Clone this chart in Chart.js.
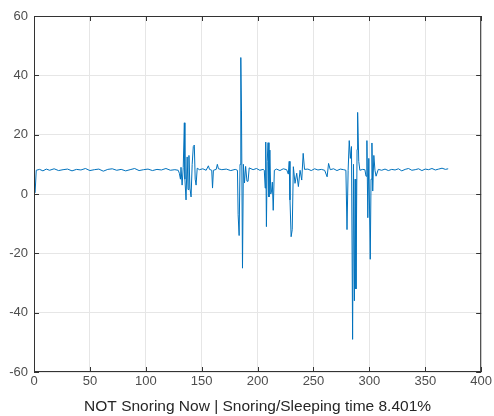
<!DOCTYPE html>
<html>
<head>
<meta charset="utf-8">
<script src="https://cdn.jsdelivr.net/npm/chart.js@4"></script>
<style>
    html, body { margin: 0; padding: 0; background: #ffffff; }
    #wrap { width: 494px; height: 416px; }
</style>
</head>
<body>
<div id="wrap"><canvas id="snoreGrafico"></canvas></div>
<script>
// SIGNAL (x = sample, y = amplitude)
const sinalX = [
    0, 1, 2, 5, 8, 11, 14, 18, 22, 26, 30, 34, 38, 42, 46, 50, 54, 58, 62, 66,
    70, 74, 78, 82, 86, 90, 94, 98, 102, 106, 110, 114, 118, 122, 126, 129,
    130, 131, 131.5, 132.5, 133.5, 134.5, 135, 136, 137, 137.8, 138.6, 139.5, 140.5, 141.5,
    142.5, 143.4, 144.2, 145, 146, 148, 151, 154, 156, 157, 159, 159.7, 160.5, 163,
    164, 165, 168, 172, 176, 180, 182,
    182.6, 183.5, 184.3, 185, 185.6, 186.5, 187.3, 188.3, 189.3, 190.5, 191.5, 192.5,
    196, 199, 202, 205,
    206, 206.8, 207.3, 207.9, 208.6, 209.4, 210.2, 211, 211.8, 212.5, 213.2, 214, 215,
    217, 220, 223, 226,
    227.5, 228.3, 229, 230, 231, 232, 233.5, 235, 236.5, 238, 239.5, 240.8, 242,
    245, 248, 251, 254, 257, 260, 262.2, 263.5, 265, 268, 271, 274, 277, 279,
    280, 281, 282, 283, 284, 285, 285.8, 286.6, 287.3, 288, 289, 289.5, 290.5, 291.5,
    294, 296, 297, 297.8, 298.6, 299.5, 300.8, 301.5, 302.3, 303, 304, 305, 306,
    308, 311, 314, 317, 320, 323, 326, 329, 332, 335, 338, 341, 344, 347, 350,
    353, 356, 359, 362, 365, 368, 370.5
];
const sinalY = [
    0, 0.5, 8, 8.3, 7.8, 8.4, 8, 8.5, 7.9, 8.2, 8.4, 7.8, 8.3, 8.1, 8.6, 7.9, 8.2, 8.4, 7.7, 8.3,
    8.5, 8, 8.3, 7.8, 8.2, 8.6, 7.9, 8.2, 8.4, 7.9, 8.3, 8.1, 8.6, 8, 8.2, 8,
    7, 5, 9, 3, 9, 24, 5, -2, 12.5, 1.5, 13, 2, -1, 10,
    16, 16.5, 5, 3, 8.7, 8.2, 8.5, 8, 9.5, 8.3, 8, 2, 8, 8.3,
    10, 8.5, 8.2, 8.4, 7.9, 8.3, 8,
    -7, -14, 10, 46, 28, -25, 10, 3.7, 9.3, 4.3, 4.3, 8.8,
    8.2, 8.6, 8, 8.3,
    8, 2, 17.5, -11, 11, 17.3, -1, 14.8, 0, 1, 4, -5.5, 8,
    8.4, 7.9, 8.5, 8.2,
    6.7, 11, -2, -14.4, -12, 9.2, 3.6, 7, 2.5, 8, 4.7, 13.7, 8.3,
    8.4, 7.9, 8.5, 8.1, 8.3, 8, 5.8, 10.3, 8.2, 8.5, 7.9, 8.4, 8.2, 8,
    -12, 8, 18, 12, 16, -49, 10, -36, 5, -32, 15, 27.5, 11, 8,
    8.3, 8.2, 6, 18, -8, 12, -22, 5, 17.2, 1, 13, 8, 6,
    8.3, 8, 8.4, 7.9, 8.3, 8.1, 8.5, 7.8, 8.3, 8.6, 8, 8.2, 8.5, 7.9, 8.4,
    8.2, 8.6, 8.1, 8.4, 8.7, 8.3, 8.5
];

const ticksX = [0, 50, 100, 150, 200, 250, 300, 350, 400];
const ticksY = [-60, -40, -20, 0, 20, 40, 60];
const tituloX = 'NOT Snoring Now | Snoring/Sleeping time 8.401%';

const pontos = sinalX.map((x, i) => ({ x: x, y: sinalY[i] }));

// caixa + ticks para dentro, estilo matlab
const caixaPlugin = {
    id: 'caixa',
    afterDraw(chart) {
        const ctx = chart.ctx;
        const a = chart.chartArea;
        const sx = chart.scales.x;
        const sy = chart.scales.y;
        ctx.save();
        ctx.strokeStyle = '#333333';
        ctx.lineWidth = 1;
        ctx.strokeRect(a.left + 0.5, a.top + 0.5, a.right - a.left - 1, a.bottom - a.top - 1);
        ctx.beginPath();
        ticksX.forEach(v => {
            const px = Math.round(sx.getPixelForValue(v)) + 0.5;
            ctx.moveTo(px, a.bottom); ctx.lineTo(px, a.bottom - 5);
            ctx.moveTo(px, a.top); ctx.lineTo(px, a.top + 5);
        });
        ticksY.forEach(v => {
            const py = Math.round(sy.getPixelForValue(v)) + 0.5;
            ctx.moveTo(a.left, py); ctx.lineTo(a.left + 5, py);
            ctx.moveTo(a.right, py); ctx.lineTo(a.right - 5, py);
        });
        ctx.stroke();
        ctx.restore();
    }
};

const snore1 = document.getElementById('snoreGrafico');

const snore_config = {
    type: 'line',
    data: {
        datasets: [{
            data: pontos,
            borderColor: '#0072BD',
            borderWidth: 1,
            pointRadius: 0,
            tension: 0,
            fill: false
        }]
    },
    options: {
        responsive: true,
        maintainAspectRatio: false,
        animation: false,
        layout: { padding: { top: 16, right: 11, left: 0, bottom: 0 } },
        plugins: {
            legend: { display: false },
            tooltip: { enabled: false }
        },
        scales: {
            x: {
                type: 'linear',
                min: 0,
                max: 400,
                afterBuildTicks: (s) => { s.ticks = ticksX.map(v => ({ value: v })); },
                afterFit: (s) => { s.height = 44; },
                grid: { color: '#e6e6e6', drawTicks: false },
                border: { display: false },
                ticks: {
                    color: '#4d4d4d',
                    padding: 2,
                    maxRotation: 0,
                    font: { size: 13, family: 'Liberation Sans' }
                },
                title: {
                    display: true,
                    text: tituloX,
                    color: '#262626',
                    padding: { top: 0, bottom: 0 },
                    font: { size: 15.5, family: 'Liberation Sans' }
                }
            },
            y: {
                min: -60,
                max: 60,
                afterBuildTicks: (s) => { s.ticks = ticksY.map(v => ({ value: v })); },
                afterFit: (s) => { s.width = 34; },
                grid: { color: '#e6e6e6', drawTicks: false },
                border: { display: false },
                ticks: {
                    color: '#4d4d4d',
                    padding: 6,
                    font: { size: 13, family: 'Liberation Sans' }
                }
            }
        }
    },
    plugins: [caixaPlugin]
};

const grafico_snore1 = new Chart(snore1, snore_config);
</script>
</body>
</html>
